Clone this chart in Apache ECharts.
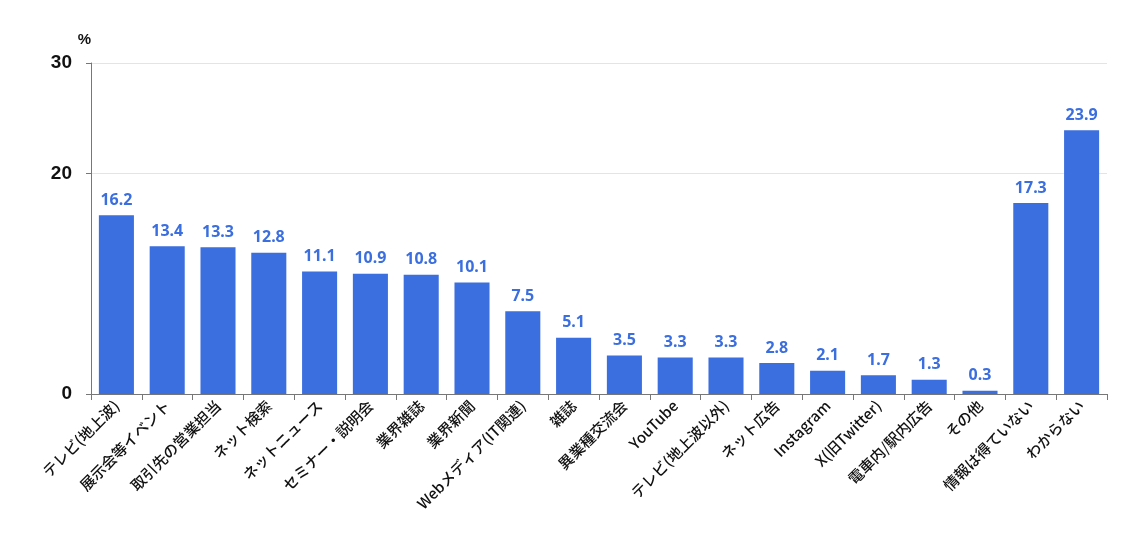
<!DOCTYPE html>
<html><head><meta charset="utf-8">
<script src="https://cdn.jsdelivr.net/npm/echarts@6/dist/echarts.min.js"></script>
<style>html,body{margin:0;padding:0;background:#fff}#c{width:1140px;height:534px}</style>
</head><body><div id="c"></div>
<script>
const categories = ["テレビ(地上波)","展示会等イベント","取引先の営業担当","ネット検索","ネットニュース","セミナー・説明会","業界雑誌","業界新聞","Webメディア(IT関連)","雑誌","異業種交流会","YouTube","テレビ(地上波以外)","ネット広告","Instagram","X(旧Twitter)","電車内/駅内広告","その他","情報は得ていない","わからない"];
const values = [16.2,13.4,13.3,12.8,11.1,10.9,10.8,10.1,7.5,5.1,3.5,3.3,3.3,2.8,2.1,1.7,1.3,0.3,17.3,23.9];
const yTicks = [0,20,30];
const font = '"Noto Sans CJK JP","Noto Sans",sans-serif';
const chart = echarts.init(document.getElementById('c'), null, {renderer:'canvas'});
chart.setOption({
  animation:false,
  grid:{left:91,right:33,top:63,bottom:140,containLabel:false},
  xAxis:{type:'category',data:categories,
    axisLine:{lineStyle:{color:'#777',width:1}},
    axisTick:{show:true,alignWithLabel:false,length:6,lineStyle:{color:'#777'}},
    axisLabel:{rotate:45,interval:0,color:'#111',fontSize:15,fontWeight:500,fontFamily:font,margin:9}
  },
  yAxis:{type:'value',min:0,max:30,interval:10,name:'%',
    nameLocation:'end',nameGap:16,nameTextStyle:{color:'#111',fontSize:15,fontFamily:'"Liberation Sans",sans-serif',fontWeight:'bold',align:'right'},
    axisLine:{show:true,lineStyle:{color:'#777'}},
    axisTick:{show:true,length:5,lineStyle:{color:'#777'},customValues:yTicks},
    axisLabel:{color:'#111',fontSize:19,fontWeight:'bold',fontFamily:'"Liberation Sans",sans-serif',margin:19,customValues:yTicks},
    splitLine:{show:true,lineStyle:{color:'#e4e4e4'}}
  },
  series:[{type:'bar',data:values,barWidth:'69%',
    itemStyle:{color:'#3b6ede'},
    label:{show:true,position:'top',distance:7,color:'#3b6ede',fontSize:16,fontWeight:'bold',fontFamily:'"Noto Sans",sans-serif',formatter:p=>p.value.toFixed(1)}
  }]
});
</script></body></html>
